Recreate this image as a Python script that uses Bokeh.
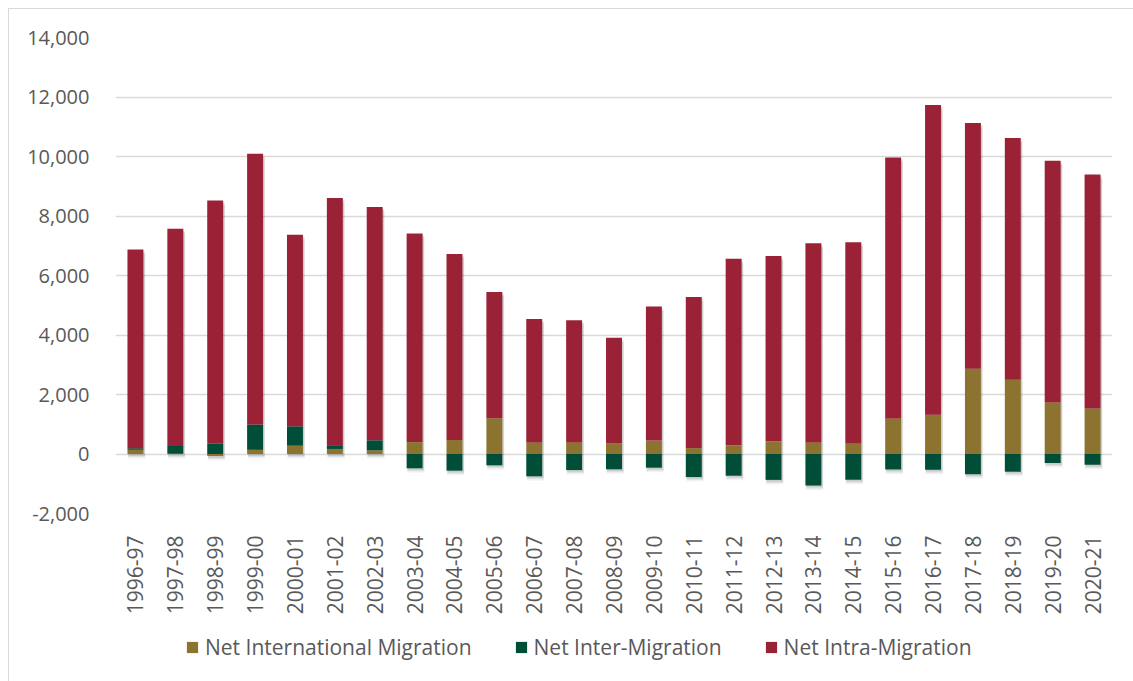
import numpy as np
from bokeh.plotting import figure
from bokeh.layouts import column
from bokeh.models import (FactorRange, Range1d, FixedTicker, NumeralTickFormatter,
                          Legend, LegendItem, ColumnDataSource)
from bokeh.transform import dodge
from bokeh.embed import file_html
from bokeh.resources import INLINE

# ---------------- data ----------------
years = ["1996-97", "1997-98", "1998-99", "1999-00", "2000-01", "2001-02", "2002-03",
         "2003-04", "2004-05", "2005-06", "2006-07", "2007-08", "2008-09", "2009-10",
         "2010-11", "2011-12", "2012-13", "2013-14", "2014-15", "2015-16", "2016-17",
         "2017-18", "2018-19", "2019-20", "2020-21"]
net_international = [140, 10, -70, 140, 280, 170, 125, 400, 470, 1200, 390, 390, 350,
                     450, 200, 290, 425, 390, 357, 1197, 1320, 2867, 2497, 1735, 1533]
net_inter = [50, 258, 350, 850, 650, 125, 335, -480, -560, -380, -750, -540, -515,
             -460, -775, -730, -870, -1060, -865, -520, -530, -680, -595, -305, -365]
net_intra = [6680, 7300, 8170, 9100, 6440, 8310, 7840, 7015, 6250, 4245, 4150, 4110,
             3560, 4510, 5080, 6275, 6230, 6690, 6760, 8770, 10410, 8260, 8125, 8124, 7865]
series_names = ["Net International Migration", "Net Inter-Migration", "Net Intra-Migration"]
series_colors = ["#8C7430", "#004D38", "#9B2236"]
y_ticks = list(range(-2000, 14001, 2000))

# ---------------- stacking (positive up, negative down) ----------------
vals = [np.array(net_international, float), np.array(net_inter, float), np.array(net_intra, float)]
pos = np.zeros(len(years))
neg = np.zeros(len(years))
stacks = []
for v in vals:
    bottom = np.where(v >= 0, pos, neg + v)
    top = np.where(v >= 0, pos + v, neg)
    pos = np.where(v >= 0, pos + v, pos)
    neg = np.where(v < 0, neg + v, neg)
    stacks.append((bottom, top))

TEXT = "#595959"
FONT = "Open Sans"

p = figure(x_range=FactorRange(*years, range_padding=0), y_range=Range1d(-2000, 14000),
           width=1124, height=614, output_backend="svg", toolbar_location=None,
           min_border_left=106, min_border_right=21, min_border_top=28, min_border_bottom=110)
p.outline_line_color = None
p.background_fill_color = "white"
p.border_fill_color = "white"

# soft shadow under each bar
px = (14000 - (-2000)) / 476.0
for off, alpha, wd in [(4.5, 0.05, 0.44), (3.0, 0.07, 0.42), (1.8, 0.09, 0.41)]:
    src = ColumnDataSource(dict(x=years, top=pos - off * px, bottom=neg - off * px))
    p.vbar(x=dodge("x", 0.03, range=p.x_range), top="top", bottom="bottom", width=wd,
           source=src, fill_color="black", fill_alpha=alpha, line_color=None)

for (bottom, top), name, col in zip(stacks, series_names, series_colors):
    src = ColumnDataSource(dict(x=years, top=top, bottom=bottom))
    p.vbar(x="x", top="top", bottom="bottom", width=0.4, source=src,
           fill_color=col, line_color=None)

# axes
p.xaxis.major_label_orientation = np.pi / 2
p.xaxis.axis_line_color = None
p.xaxis.major_tick_line_color = None
p.xaxis.minor_tick_line_color = None
p.xaxis.major_label_standoff = 16
p.xaxis.major_label_text_font = FONT
p.xaxis.major_label_text_font_size = "21px"
p.xaxis.major_label_text_color = TEXT

p.yaxis.ticker = FixedTicker(ticks=y_ticks)
p.yaxis.formatter = NumeralTickFormatter(format="0,0")
p.yaxis.axis_line_color = None
p.yaxis.major_tick_line_color = None
p.yaxis.minor_tick_line_color = None
p.yaxis.major_label_standoff = 20
p.yaxis.major_label_text_font = FONT
p.yaxis.major_label_text_font_size = "20px"
p.yaxis.major_label_text_color = TEXT

p.xgrid.grid_line_color = None
p.ygrid.grid_line_color = "#d9d9d9"
p.ygrid.grid_line_width = 1.5

# ---------------- legend strip ----------------
lg = figure(width=1124, height=58, x_range=Range1d(0, 1), y_range=Range1d(0, 1),
            output_backend="svg", toolbar_location=None, min_border=0,
            x_axis_location=None, y_axis_location=None)
lg.outline_line_color = None
lg.xgrid.grid_line_color = None
lg.ygrid.grid_line_color = None
legend_renderers = [lg.vbar(x=[0.5], top=[0.5], bottom=[0.5], width=0.0,
                            fill_color=c, line_color=None) for c in series_colors]
legend = Legend(items=[LegendItem(label=n, renderers=[r])
                       for n, r in zip(series_names, legend_renderers)],
                orientation="horizontal", location=(70, 20), padding=0, margin=0,
                spacing=42, label_standoff=6, glyph_width=14, glyph_height=14,
                label_text_font=FONT, label_text_font_size="21px", label_text_color=TEXT,
                border_line_color=None, background_fill_alpha=0)
lg.add_layout(legend, "center")

layout = column(p, lg, spacing=0)
layout.margin = (8, 0, 0, 8)
layout.styles = {"border-left": "1px solid #d9d9d9", "border-top": "1px solid #d9d9d9"}

open("out.html", "w").write(file_html(layout, INLINE))
